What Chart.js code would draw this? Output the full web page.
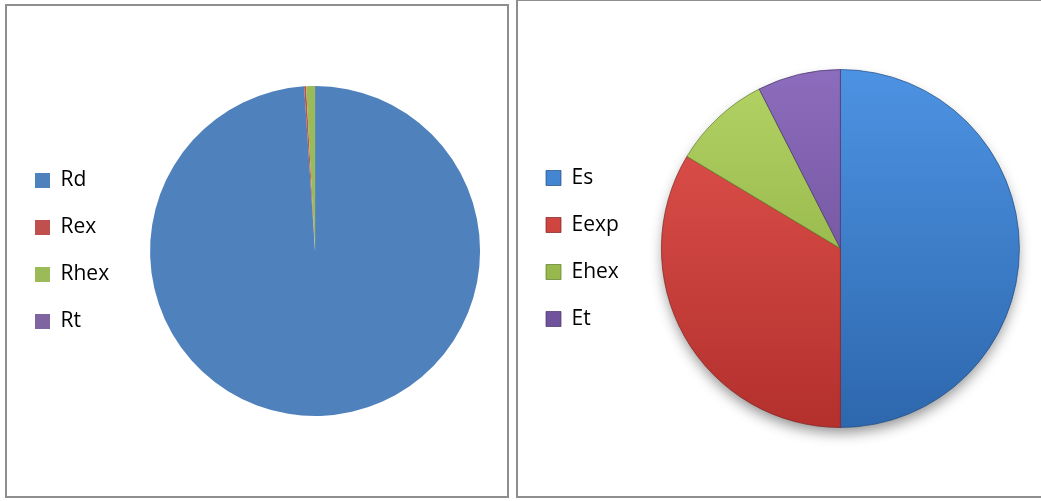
<!DOCTYPE html>
<html>
<head>
<meta charset="utf-8">
<script src="https://cdn.jsdelivr.net/npm/chart.js@4/dist/chart.umd.min.js"></script>
<style>
  body { margin: 0; background: #fff; width: 1041px; height: 501px; overflow: hidden; position: relative; }
  .panel { position: absolute; border: 2px solid #8e8e8e; background: #fff; overflow: hidden; }
  #panelR { left: 5px; top: 4px; width: 500px; height: 490px; }
  #panelE { left: 516px; top: -1px; width: 534px; height: 495px; }
  canvas { display: block; }
</style>
</head>
<body>
<div class="panel" id="panelR"><canvas id="chartR" width="504" height="490"></canvas></div>
<div class="panel" id="panelE"><canvas id="chartE" width="534" height="495"></canvas></div>
<script>
const rLabels = ["Rd", "Rex", "Rhex", "Rt"];
const rValues = [98.94, 0.19, 0.87, 0];
const rColors = ["#4f81bd", "#c0504d", "#9bbb59", "#8064a2"];

const eLabels = ["Es", "Eexp", "Ehex", "Et"];
const eValues = [50, 33.6, 8.9, 7.5];
// top / bottom tones for the shaded slices
const eTop = ["#4d93e3", "#e4554f", "#b3d365", "#8c6cbc"];
const eBottom = ["#2d67ad", "#b3302d", "#83a43a", "#64478f"];
const eEdge = ["rgba(31,74,128,0.7)", "rgba(126,34,32,0.7)", "rgba(93,122,38,0.7)", "rgba(71,50,106,0.7)"];

const legendFont = { family: "'Open Sans', 'Noto Sans', sans-serif", size: 21 };

function legendOpts(pad) {
  return {
    position: "left",
    align: "center",
    labels: { boxWidth: 15, boxHeight: 15, padding: pad, color: "#000", font: legendFont },
  };
}

new Chart(document.getElementById("chartR"), {
  type: "pie",
  data: { labels: rLabels, datasets: [{ data: rValues, backgroundColor: rColors, borderWidth: 0 }] },
  options: {
    responsive: false, animation: false, radius: 165,
    layout: { padding: { left: 2, right: 0, top: 0, bottom: 0 } },
    plugins: { legend: legendOpts(26), tooltip: { enabled: false } },
  },
});

function shade(ctx) {
  const chart = ctx.chart, area = chart.chartArea;
  const i = ctx.dataIndex;
  if (!area || i === undefined) return eBottom[i || 0];
  const cy = (area.top + area.bottom) / 2;
  const g = chart.ctx.createLinearGradient(0, cy - 180, 0, cy + 180);
  g.addColorStop(0, eTop[i]);
  g.addColorStop(1, eBottom[i]);
  return g;
}

// soft drop shadow under the pie
const pieShadow = {
  id: "pieShadow",
  beforeDatasetsDraw(chart) {
    const arc = chart.getDatasetMeta(0).data[0];
    if (!arc) return;
    const c = chart.ctx;
    c.save();
    c.shadowColor = "rgba(0,0,0,0.45)";
    c.shadowBlur = 14;
    c.shadowOffsetY = 7;
    c.fillStyle = "#fff";
    c.beginPath();
    c.arc(arc.x, arc.y, arc.outerRadius - 2, 0, Math.PI * 2);
    c.fill();
    c.restore();
  },
};

new Chart(document.getElementById("chartE"), {
  type: "pie",
  data: { labels: eLabels, datasets: [{ data: eValues, backgroundColor: shade, borderColor: eEdge, borderWidth: 1 }] },
  options: {
    responsive: false, animation: false, radius: 179,
    layout: { padding: { left: 2, right: 0, top: 0, bottom: 0 } },
    plugins: { legend: legendOpts(26), tooltip: { enabled: false } },
  },
  plugins: [pieShadow],
});
</script>
</body>
</html>
